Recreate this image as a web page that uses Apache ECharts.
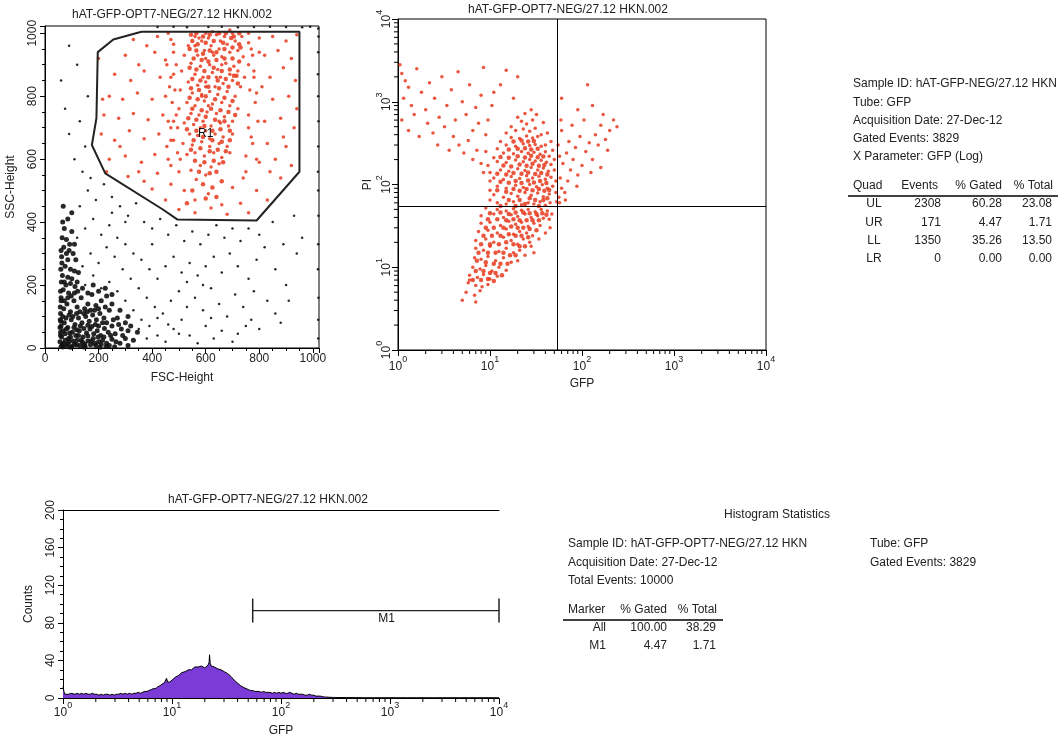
<!DOCTYPE html>
<html>
<head>
<meta charset="utf-8">
<script src="https://cdn.jsdelivr.net/npm/echarts@6/dist/echarts.min.js"></script>
<style>
html,body{margin:0;padding:0;background:#fff;}
#main{width:1060px;height:738px;}
</style>
</head>
<body>
<div id="main"></div>
<script>
// ---- data ----
var plotTitle = 'hAT-GFP-OPT7-NEG/27.12 HKN.002';

// R1 gate (FSC, SSC)
var gateR1 = [[360,1005],[950,1005],[950,560],[790,405],[495,408],[440,440],[225,555],[175,645],[192,730],[197,940],[255,980],[360,1005]];
var gateLabel = [[600,680]];

// events inside R1 (red)
var fscSscGated = [
[560,990],[585,975],[610,985],[640,995],[670,990],[700,1000],[620,960],[595,945],[650,950],[680,965],[710,975],[735,990],[570,930],[600,920],[630,930],[660,925],[690,940],[545,905],[580,895],[615,900],[645,885],[675,905],[705,895],[560,870],[590,860],[625,875],[655,860],[690,870],[720,880],[535,845],[570,835],[600,845],[635,830],[665,840],[700,850],[550,810],[585,800],[615,815],[645,805],[680,815],[710,800],[530,780],[560,770],[595,785],[625,775],[660,780],[690,770],[545,745],[575,740],[605,750],[640,745],[670,735],[520,715],[555,710],[590,720],[620,705],[655,715],[685,705],[540,680],[570,675],[600,690],[635,680],[665,670],[515,650],[550,645],[585,655],[615,640],[650,650],[680,640],[530,615],[560,620],[595,610],[630,620],[660,605],[575,985],[655,975],[625,1005],[690,1010],[600,1000],[720,945],[740,925],[535,960],[520,930],[510,880],[745,860],[730,830],[505,820],[500,760],[720,760],[700,720],[495,700],[700,680],[505,600],[690,620],[610,770],[580,700],[640,860],[600,830],[660,900],[625,940],[585,805],[560,960],[650,720],[615,665],[545,565],[580,580],[620,575],[650,585],[600,550],[565,535],
[330,980],[380,960],[420,990],[460,1000],[480,965],[760,1000],[800,985],[850,990],[900,975],[940,995],[300,930],[350,900],[410,940],[450,915],[480,870],[770,950],[820,930],[870,945],[920,920],[260,870],[320,850],[370,880],[430,860],[465,830],[780,880],[840,860],[890,890],[935,850],[240,800],[290,790],[345,810],[400,790],[450,800],[790,810],[850,790],[910,800],[220,740],[275,730],[330,745],[385,725],[440,740],[480,720],[760,740],[820,720],[880,730],[930,700],[210,680],[260,660],[315,690],[370,665],[425,680],[470,660],[770,670],[830,650],[890,670],[240,600],[300,610],[360,590],[410,615],[460,600],[750,610],[800,590],[860,600],[920,580],[310,545],[370,530],[420,555],[470,520],[520,500],[560,470],[610,490],[660,455],[700,510],[740,540],[790,500],[840,560],[500,440],[560,430],[620,445],[680,425],[730,460],[760,430],[450,470],[400,505],[350,560],[280,640],[230,560],[200,920],[215,790],[900,640],[940,760],[880,540],[830,470],
[470,980],[480,940],[490,900],[470,860],[485,820],[475,780],[490,740],[470,700],[480,660],[495,620],[760,970],[775,930],[760,900],[780,860],[765,820],[785,780],[760,700],[775,650],[790,600],[750,560],[500,560],[470,580],[455,640],[460,720],[455,900],[800,940],[810,830],[795,720]
];
// densest part of the R1 population
var fscSscGatedCore = [
[545,995],[565,1000],[590,990],[615,995],[650,1000],[675,1000],[705,990],[725,1000],
[550,975],[570,965],[600,970],[630,975],[665,970],[695,985],[725,965],
[540,950],[565,945],[590,935],[615,945],[640,940],[670,950],[700,955],[730,955],
[555,920],[585,915],[610,910],[640,915],[670,920],[700,920],[725,910],
[540,890],[565,885],[595,880],[630,890],[660,880],[690,885],[715,865],
[550,855],[580,850],[610,860],[645,850],[675,855],[705,865],
[545,825],[575,820],[610,830],[650,825],[685,830],[720,840],
[540,795],[570,790],[600,800],[635,790],[670,795],[700,785],
[550,760],[585,755],[620,760],[655,755],[685,750],[710,740],
[535,730],[565,725],[600,735],[635,725],[670,720],
[530,695],[565,690],[595,705],[625,690],[655,695],[690,690],
[555,660],[590,670],[625,660],[660,655],[690,660],
[545,630],[580,635],[615,625],[645,630],[675,625],
[560,595],[595,590],[630,595],[665,590],[575,560],[615,555],[640,560],[590,520],[625,510],[550,500],[660,530],[600,475],[530,460],[640,480]
];

// debris core (black, dense)
var fscSscCore = [
[60,5],[70,15],[80,8],[90,20],[100,5],[110,12],[120,25],[130,8],[140,18],[150,5],[160,22],[170,10],[180,30],[190,8],[200,20],[210,12],[220,35],[230,15],[240,8],[250,28],
[62,35],[75,45],[88,30],[102,50],[115,40],[128,55],[142,35],[155,48],[168,60],[182,45],[195,55],[208,40],[222,62],[236,50],[250,70],[262,45],
[60,70],[72,80],[85,65],[98,90],[112,75],[125,95],[138,80],[152,100],[165,85],[178,105],[192,90],[205,110],[220,95],[240,120],[270,95],[285,60],[300,30],[280,15],
[58,110],[70,125],[82,140],[95,115],[108,150],[120,130],[135,160],[148,125],[160,140],[175,170],[190,135],[210,150],[230,165],
[60,160],[68,185],[78,200],[88,175],[100,220],[112,195],[125,240],[65,230],[75,260],[85,280],[95,250],[105,300],[70,320],[80,345],[90,310],[100,370],[115,280],[62,290],[58,50],[57,90],[66,3],[95,2],[145,3],[205,2],[260,4],[310,8],[330,25],[345,50],
[56,20],[58,40],[56,65],[59,85],[57,130],[60,150],[58,180],[61,210],[59,250],[63,270],[60,310],[64,350],[66,400],
[65,10],[76,25],[85,12],[95,35],[105,22],[118,10],[125,40],[135,25],[148,12],[160,38],[172,22],[185,15],[198,35],[215,25],[228,5],[245,40],[265,20],[290,40],[310,55],
[68,55],[80,60],[92,48],[108,65],[118,58],[132,70],[145,62],[160,72],[175,68],[188,75],[200,70],[215,80],[230,80],[255,90],[275,75],[300,80],[320,70],
[66,100],[78,95],[90,105],[104,100],[118,110],[130,115],[145,110],[158,115],[170,120],[185,120],[200,125],[225,130],[250,140],[280,120],[310,100],
[72,150],[85,160],[98,165],[110,175],[122,180],[140,190],[160,175],[180,200],[200,180],[225,190],[250,170],
[72,210],[85,225],[95,205],[110,245],[120,210],[80,300],[92,330],[110,330],[72,380],[85,410],[100,430],[68,450]
];

// other ungated events (black, sparse) incl. off-scale events on the edges
var fscSscOther = [
[150,200],[180,230],[210,190],[240,210],[270,180],[300,150],[330,120],[360,90],[390,70],[420,40],[450,20],[480,60],[510,90],[540,40],[570,15],[600,70],[630,30],[660,55],[700,20],[720,45],
[140,260],[170,300],[200,270],[230,320],[260,290],[290,250],[320,220],[350,190],[380,160],[410,130],[440,110],[470,150],[500,180],[530,130],[560,160],[590,120],[620,190],[650,140],[680,100],[710,170],[740,130],[770,90],[800,60],[830,150],[860,110],
[120,350],[150,380],[180,410],[210,360],[240,390],[270,350],[300,330],[330,300],[360,280],[390,250],[420,220],[450,260],[480,290],[510,240],[540,270],[570,230],[600,260],[630,290],[660,240],[690,300],[720,260],[760,220],[790,280],[820,320],[860,250],[900,200],[940,300],[960,350],
[130,450],[160,500],[190,470],[220,520],[250,480],[280,450],[310,420],[340,460],[370,400],[400,380],[430,410],[460,360],[490,390],[520,340],[550,370],[580,330],[610,360],[640,390],[670,350],[700,380],[730,340],[760,380],[800,360],[850,400],[890,330],[930,420],
[110,600],[140,560],[170,540],[90,680],[130,720],[160,800],[120,900],[90,960],[60,850],[75,760],[150,640],
[350,60],[380,30],[420,95],[460,75],[500,45],[620,95],[750,70],[880,80],[910,150],[780,180],[590,200],[530,210],[400,330],[300,400],[250,430],
[1020,30],[1020,90],[1021,160],[1019,250],[1020,330],[1021,420],[1020,500],[1019,560],[1020,640],[1021,720],[1020,800],[1019,870],[1020,940],[1021,990],[1020,1015],
[420,1020],[480,1021],[530,1019],[610,1020],[660,1021],[720,1019],[780,1020],[840,1021],[900,1020],[960,1019],[990,1021]
];

// GFP vs PI (gated events)
var gfpPi = [
[12,60],[15,58],[18,62],[22,57],[26,60],[30,58],[35,62],[40,56],[45,60],
[11,75],[14,70],[17,78],[20,72],[24,80],[28,74],[33,79],[38,71],[44,77],
[12,95],[15,90],[19,98],[23,92],[27,100],[32,94],[37,99],[42,90],
[11,120],[14,115],[17,125],[21,118],[25,128],[29,120],[34,126],[40,116],[46,122],
[13,150],[16,145],[20,155],[24,148],[28,160],[33,150],[38,158],[43,145],
[12,190],[15,185],[19,198],[23,188],[27,200],[31,192],[36,196],[41,186],
[14,240],[18,235],[22,250],[26,238],[30,245],[35,232],[40,248],
[15,300],[19,290],[23,310],[27,295],[31,305],[36,290],
[17,370],[21,360],[25,385],[29,365],[33,380],
[19,450],[23,470],[27,440],[31,480],[25,540],[29,600],[22,580],
[10,65],[10,85],[10,110],[10,140],[9.5,170],[11,210],[12,270],[13,330],[15,420],[17,500],[20,650],[24,720],[28,800],[32,700],[38,560],[42,420],[46,330],[48,260],[50,200],[50,150],[52,110],[52,80],[53,62],[48,95],[46,175],[44,220],[40,300],[36,400],
[9,52],[12,50],[15,48],[18,51],[22,49],[26,50],[31,47],[36,50],[42,48],
[8,42],[11,44],[14,40],[17,43],[20,41],[24,44],[28,40],[33,42],[38,39],
[8,34],[10,35],[13,32],[16,36],[19,33],[22,35],[26,31],[30,34],[35,32],
[7.5,27],[9.5,28],[12,26],[15,29],[18,25],[21,27],[25,26],[29,24],
[7,21],[9,22],[11,20],[14,23],[17,21],[20,19],[23,22],[27,20],
[7,17],[8.5,16],[10,18],[12.5,15.5],[15,17],[18,15],[21,16],[24,14],
[6.8,13],[8,12.5],[9.5,13.5],[11.5,12],[14,13],[17,11.5],[20,12],
[6.5,10],[7.8,9.5],[9,10.5],[10.5,9],[12.5,10],[15,9.2],
[6,8],[7.3,7.5],[8.5,8.2],[10,7.2],[12,7.8],
[5.8,6.5],[7,6],[8.2,5.8],[9.5,6.2],
[5.5,5],[6.8,4.6],[7.8,5.2],[5,4],[7,3.8],[6,7],[30,15],[28,18],[34,22],[40,26],[45,30],[44,38],[47,44],
[1.05,2800],[1.1,2200],[1.2,1800],[1.3,1500],[1.15,1100],[1.4,900],[1.6,2500],[1.8,1300],[2.0,800],[2.2,1700],[2.5,1100],[2.8,650],[3.0,2000],[3.4,900],[3.8,1400],[4.2,600],[4.5,2300],[5.0,1000],[5.5,700],[6.0,1600],[6.5,450],[7.0,850],[7.5,550],[8,1200],
[1.1,600],[1.3,450],[1.5,700],[1.7,380],[2.1,550],[2.4,420],[2.7,300],[3.2,500],[3.6,260],[4.0,380],[4.6,300],[5.2,240],[5.8,340],[6.5,200],[7.2,260],[8.0,180],[8.5,140],[9,250],[9,400],[9.5,600],[10.5,900],[11,1300],[13,1600],[15,2400],[18,1100],[20,2000],[8.5,2600],
[56,70],[60,90],[65,80],[58,120],[70,110],[75,150],[62,180],[80,200],[68,240],[90,130],[85,280],[100,170],[72,330],[110,250],[95,380],[120,320],[60,450],[130,200],[140,400],[78,520],[150,300],[105,600],[160,520],[180,350],[200,450],[170,700],[220,600],[240,500],[90,800],[130,900],[115,1600],[60,1100],[66,65],[57,60],[88,95],[125,140],[160,160],[190,260],[55,300],[57,220],[59,600]
];
// densest part of the GFP/PI cloud
var gfpPiCore = [
[13,55],[16,65],[19,55],[21,65],[24,58],[27,68],[31,65],[34,55],[38,65],[42,68],
[12,85],[15,82],[18,88],[21,84],[25,88],[29,85],[34,88],[39,84],[44,86],
[13,108],[16,105],[19,110],[22,104],[26,112],[30,106],[35,110],[41,104],
[12,135],[15,132],[18,138],[22,135],[26,140],[31,134],[36,138],[42,132],
[14,170],[17,165],[21,175],[25,168],[29,178],[34,168],[39,172],
[13,215],[16,210],[20,220],[24,212],[28,222],[33,214],[38,218],
[16,265],[20,270],[24,275],[28,265],[33,270],[18,330],[22,340],[26,330],[30,335],
[10,45],[13,46],[16,44],[19,46],[23,46],[27,45],[32,44],[37,45],[41,43],
[9.5,38],[12,38],[15,37],[18,38],[21,37],[25,37],[29,37],[34,37],
[9,30],[11,30],[14,30],[17,31],[20,30],[23,30],[27,29],[32,28],
[8.5,24],[10.5,24],[13,24],[16,25],[19,24],[22,24],[26,23],
[8,19],[10,19],[12.5,19],[15,20],[18,19],[21,18],[24,18],
[7.5,15],[9.5,15],[11.5,15],[14,15],[16.5,14],[19,14],
[7.2,12],[9,11.5],[11,11],[13,11],[15.5,11],
[7,9],[8.5,9],[10,8.5],[11.5,8.5],[13.5,8],
[6.5,7],[8,7],[9.5,7.2],[11,6.8]
];
var quadX = 54, quadY = 54;

// GFP histogram (GFP, counts)
var gfpHist = [
[1.00,12],[1.02,7],[1.04,4],[1.08,5],[1.13,4],[1.18,5],[1.23,5],[1.29,4],[1.35,5],[1.41,4],[1.48,5],[1.55,4],[1.62,5],[1.70,4],[1.78,4],[1.86,5],[1.95,4],[2.04,4],[2.14,3],[2.24,4],[2.34,3],[2.45,4],[2.57,4],[2.69,3],[2.82,4],[2.95,3],[3.09,4],[3.24,4],[3.39,5],[3.55,4],[3.72,5],[3.89,4],[4.07,5],[4.27,4],[4.47,5],[4.68,5],[4.90,6],[5.13,5],[5.37,6],[5.62,7],[5.89,7],[6.17,8],[6.46,9],[6.76,10],[7.08,10],[7.41,12],[7.76,13],[8.13,15],[8.51,16],[8.71,18],[8.91,21],[9.12,17],[9.33,18],[9.55,17],[9.77,19],[10.0,19],[10.4,21],[10.7,22],[11.0,23],[11.5,24],[11.8,26],[12.3,27],[12.6,26],[13.2,28],[13.5,29],[14.1,30],[14.5,31],[15.1,30],[15.5,32],[16.2,33],[16.6,31],[17.4,33],[17.8,32],[18.6,34],[19.1,33],[20.0,32],[20.4,34],[21.4,35],[21.9,38],[22.1,46],[22.4,37],[22.9,34],[23.4,35],[24.5,33],[25.1,34],[26.3,31],[26.9,32],[28.2,30],[28.8,31],[30.2,28],[30.9,29],[32.4,26],[33.1,25],[34.7,23],[35.5,22],[37.2,19],[38.0,19],[39.8,16],[40.7,15],[42.7,13],[43.7,12],[45.7,11],[47.9,10],[50.1,9],[52.5,8],[55.0,8],[57.5,7],[60.3,7],[63.1,7],[66.1,6],[69.2,7],[72.4,6],[75.9,6],[79.4,6],[83.2,5],[87.1,6],[91.2,5],[95.5,6],[100,5],[105,6],[110,5],[115,5],[120,6],[126,5],[132,4],[138,5],[145,4],[151,4],[158,4],[166,3],[174,3],[182,4],[191,3],[200,3],[209,2],[219,2],[229,2],[240,1.5],[251,1],[263,1],[275,0.8],[302,0.6],[331,0.5],[363,0.5],[398,0.4],[479,0.4],[575,0.3],[692,0.3],[832,0.3],[1000,0.3],[1200,0.3],[1445,0.3],[1738,0.3],[2089,0.3],[2512,0.3],[3020,0.3],[3631,0.3],[4365,0.3],[5248,0.3],[6310,0.3],[7586,0.3],[9120,0.3],[10000,0.3]
];
var markerM1 = [[55,93],[10000,93]];
var markerM1Label = [[930,93]];

// statistics panels
var quadInfo = ['Sample ID: hAT-GFP-NEG/27.12 HKN', 'Tube: GFP', 'Acquisition Date: 27-Dec-12', 'Gated Events: 3829', 'X Parameter: GFP (Log)'];
var quadHead = ['Quad', 'Events', '% Gated', '% Total'];
var quadRows = [['UL','2308','60.28','23.08'],['UR','171','4.47','1.71'],['LL','1350','35.26','13.50'],['LR','0','0.00','0.00']];
var histInfoLeft = ['Sample ID: hAT-GFP-OPT7-NEG/27.12 HKN', 'Acquisition Date: 27-Dec-12', 'Total Events: 10000'];
var histInfoRight = ['Tube: GFP', 'Gated Events: 3829'];
var markerHead = ['Marker', '% Gated', '% Total'];
var markerRows = [['All','100.00','38.29'],['M1','4.47','1.71']];

// ---- chart ----
var FONT = '"Liberation Sans", Arial, sans-serif';
var TXT = '#222';
var RED = '#e8381c';
var chart = echarts.init(document.getElementById('main'));

var logMinor = [];
[1,10,100,1000].forEach(function(d){ for (var k=2;k<=9;k++) logMinor.push(k*d); });

function supLabel(v){
	var e = Math.round(Math.log(v)/Math.LN10);
	return '{b|10}{s|' + e + '}';
}
function plainLabel(v){ return String(v); }
var supRich = {
	b: {fontSize: 12, fontFamily: FONT, color: TXT, lineHeight: 18, verticalAlign: 'bottom'},
	s: {fontSize: 9, fontFamily: FONT, color: TXT, lineHeight: 10, verticalAlign: 'top'}
};

function tickSeries(xi, yi, dir, base, len){
	return {
		type: 'custom', xAxisIndex: xi, yAxisIndex: yi, silent: true, clip: false, z: 5,
		data: logMinor.map(function(v){ return dir === 'x' ? [v, base] : [base, v]; }),
		renderItem: function(params, api){
			var p = api.coord([api.value(0), api.value(1)]);
			var shape = dir === 'x'
				? {x1: p[0], y1: p[1], x2: p[0], y2: p[1] + len}
				: {x1: p[0], y1: p[1], x2: p[0] - len, y2: p[1]};
			return {type: 'line', shape: shape, style: {stroke: '#000', lineWidth: 1}};
		}
	};
}

var axisLine = {show: true, lineStyle: {color: '#000', width: 1}};
var axisTick = {show: true, length: 6, lineStyle: {color: '#000'}};
var nameStyle = {fontSize: 12, fontFamily: FONT, color: TXT};
var linLabel = {fontSize: 12, fontFamily: FONT, color: TXT, formatter: plainLabel};
var textLabel = {show: true, fontSize: 12, fontFamily: FONT, color: '#111', opacity: 1};

// text panels as graphic
var graphics = [];
function txt(s, x, y, align){
	graphics.push({type: 'text', x: x, y: y, silent: true,
		style: {text: s, font: '12px ' + FONT, fill: TXT, textAlign: align || 'left', textVerticalAlign: 'middle'}});
}
function hline(x1, x2, y){
	graphics.push({type: 'line', silent: true, shape: {x1: x1, y1: y, x2: x2, y2: y}, style: {stroke: '#000', lineWidth: 1.5}});
}
txt(plotTitle, 172, 15, 'center');
txt(plotTitle, 568, 10, 'center');
txt(plotTitle, 268, 500, 'center');

quadInfo.forEach(function(s, i){ txt(s, 853, 84 + i*18.2); });
txt(quadHead[0], 853, 186); txt(quadHead[1], 938, 186, 'right'); txt(quadHead[2], 1002, 186, 'right'); txt(quadHead[3], 1053, 186, 'right');
hline(848, 1058, 196);
quadRows.forEach(function(r, i){
	var y = 204 + i*18.3;
	txt(r[0], 874, y, 'center'); txt(r[1], 941, y, 'right'); txt(r[2], 1002, y, 'right'); txt(r[3], 1052, y, 'right');
});

txt('Histogram Statistics', 777, 515, 'center');
histInfoLeft.forEach(function(s, i){ txt(s, 568, 544 + i*18.3); });
histInfoRight.forEach(function(s, i){ txt(s, 870, 544 + i*18.3); });
txt(markerHead[0], 568, 610); txt(markerHead[1], 667, 610, 'right'); txt(markerHead[2], 717, 610, 'right');
hline(563, 723, 620);
markerRows.forEach(function(r, i){
	var y = 628 + i*18;
	txt(r[0], 606, y, 'right'); txt(r[1], 667, y, 'right'); txt(r[2], 716, y, 'right');
});

chart.setOption({
	animation: false,
	backgroundColor: '#fff',
	grid: [
		{left: 45, top: 26, width: 274, height: 322, show: true, borderColor: '#000', borderWidth: 1},
		{left: 398, top: 19, width: 368, height: 331, show: true, borderColor: '#000', borderWidth: 1},
		{left: 63, top: 510, width: 436, height: 188}
	],
	xAxis: [
		{gridIndex: 0, type: 'value', min: 0, max: 1023, interval: 200,
			name: 'FSC-Height', nameLocation: 'middle', nameGap: 24, nameTextStyle: nameStyle,
			axisLine: axisLine, axisTick: {show: true, length: 5, lineStyle: {color: '#000'}},
			minorTick: {show: true, splitNumber: 4, length: 3, lineStyle: {color: '#000'}},
			axisLabel: Object.assign({margin: 5, showMaxLabel: false}, linLabel),
			splitLine: {show: false}},
		{gridIndex: 1, type: 'log', logBase: 10, min: 1, max: 10000,
			name: 'GFP', nameLocation: 'middle', nameGap: 28, nameTextStyle: nameStyle,
			axisLine: axisLine, axisTick: axisTick,
			axisLabel: {margin: 5, formatter: supLabel, rich: supRich},
			splitLine: {show: false}},
		{gridIndex: 2, type: 'log', logBase: 10, min: 1, max: 10000,
			name: 'GFP', nameLocation: 'middle', nameGap: 27, nameTextStyle: nameStyle,
			axisLine: axisLine, axisTick: axisTick,
			axisLabel: {margin: 3, formatter: supLabel, rich: supRich},
			splitLine: {show: false}},
		{gridIndex: 2, type: 'log', logBase: 10, min: 1, max: 10000, position: 'top',
			axisLine: axisLine, axisTick: {show: false}, axisLabel: {show: false}, splitLine: {show: false}}
	],
	yAxis: [
		{gridIndex: 0, type: 'value', min: 0, max: 1023, interval: 200,
			name: 'SSC-Height', nameLocation: 'middle', nameGap: 28, nameTextStyle: nameStyle,
			axisLine: axisLine, axisTick: {show: true, length: 5, lineStyle: {color: '#000'}},
			minorTick: {show: true, splitNumber: 4, length: 3, lineStyle: {color: '#000'}},
			axisLabel: Object.assign({margin: 6, rotate: 90, showMaxLabel: false}, linLabel),
			splitLine: {show: false}},
		{gridIndex: 1, type: 'log', logBase: 10, min: 1, max: 10000,
			name: 'PI', nameLocation: 'middle', nameGap: 24, nameTextStyle: nameStyle,
			axisLine: axisLine, axisTick: axisTick,
			axisLabel: {margin: 5, rotate: 90, formatter: supLabel, rich: supRich},
			splitLine: {show: false}},
		{gridIndex: 2, type: 'value', min: 0, max: 200, interval: 40,
			name: 'Counts', nameLocation: 'middle', nameGap: 28, nameTextStyle: nameStyle,
			axisLine: axisLine, axisTick: {show: true, length: 5, lineStyle: {color: '#000'}},
			minorTick: {show: true, splitNumber: 4, length: 3, lineStyle: {color: '#000'}},
			axisLabel: Object.assign({margin: 6, rotate: 90}, linLabel),
			splitLine: {show: false}}
	],
	series: [
		{type: 'scatter', xAxisIndex: 0, yAxisIndex: 0, data: fscSscCore, symbol: 'circle', symbolSize: 5,
			itemStyle: {color: '#111', opacity: 0.9}, silent: true},
		{type: 'scatter', xAxisIndex: 0, yAxisIndex: 0, data: fscSscOther, symbol: 'circle', symbolSize: 2.5,
			itemStyle: {color: '#111', opacity: 0.9}, silent: true},
		{type: 'scatter', xAxisIndex: 0, yAxisIndex: 0, data: fscSscGated, symbol: 'circle', symbolSize: 3.5,
			itemStyle: {color: RED, opacity: 0.85}, silent: true},
		{type: 'scatter', xAxisIndex: 0, yAxisIndex: 0, data: fscSscGatedCore, symbol: 'circle', symbolSize: 4.5,
			itemStyle: {color: RED, opacity: 0.85}, silent: true},
		{type: 'line', xAxisIndex: 0, yAxisIndex: 0, data: gateR1, symbol: 'none',
			lineStyle: {color: '#222', width: 2}, silent: true, z: 4},
		{type: 'scatter', xAxisIndex: 0, yAxisIndex: 0, data: gateLabel, symbolSize: 0, silent: true, z: 6,
			itemStyle: {opacity: 1},
			label: Object.assign({position: 'inside', formatter: 'R1'}, textLabel)},

		{type: 'scatter', xAxisIndex: 1, yAxisIndex: 1, data: gfpPi, symbol: 'circle', symbolSize: 3.5,
			itemStyle: {color: RED, opacity: 0.85}, silent: true,
			markLine: {silent: true, symbol: ['none', 'none'], label: {show: false},
				lineStyle: {color: '#000', type: 'solid', width: 1},
				data: [{xAxis: quadX}, {yAxis: quadY}]}},
		{type: 'scatter', xAxisIndex: 1, yAxisIndex: 1, data: gfpPiCore, symbol: 'circle', symbolSize: 4.5,
			itemStyle: {color: RED, opacity: 0.85}, silent: true},
		tickSeries(1, 1, 'x', 1, 4),
		tickSeries(1, 1, 'y', 1, 4),

		{type: 'line', xAxisIndex: 2, yAxisIndex: 2, data: gfpHist, symbol: 'none',
			lineStyle: {color: '#000', width: 1}, areaStyle: {color: '#7a3bd6', opacity: 1}, silent: true},
		tickSeries(2, 2, 'x', 0, 4),
		{type: 'line', xAxisIndex: 2, yAxisIndex: 2, data: markerM1, symbol: 'rect', symbolSize: [1.5, 24],
			itemStyle: {color: '#222'}, lineStyle: {color: '#222', width: 1.2}, clip: false, silent: true},
		{type: 'scatter', xAxisIndex: 2, yAxisIndex: 2, data: markerM1Label, symbolSize: 0, silent: true,
			itemStyle: {opacity: 1},
			label: Object.assign({position: 'bottom', distance: 2, formatter: 'M1'}, textLabel)}
	],
	graphic: graphics
});
</script>
</body>
</html>
